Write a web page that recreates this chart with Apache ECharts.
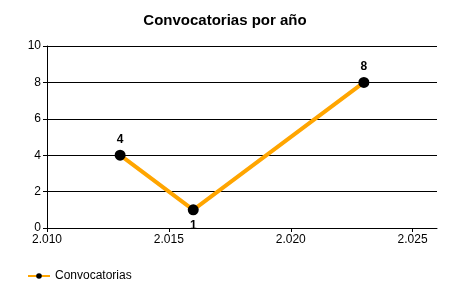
<!DOCTYPE html>
<html><head><meta charset="utf-8">
<script src="https://cdn.jsdelivr.net/npm/echarts@6/dist/echarts.min.js"></script>
<style>html,body{margin:0;padding:0;background:#fff}#c{width:450px;height:300px}</style>
</head><body><div id="c"></div>
<script>
const years = [2013, 2016, 2023];
const values = [4, 1, 8];
const labelPos = ['top', 'bottom', 'top'];
const seriesName = 'Convocatorias';
const titleText = 'Convocatorias por año';

const chart = echarts.init(document.getElementById('c'), null, {renderer: 'canvas'});
const fmt = v => { const s = String(v); return s.length > 3 ? s.slice(0, s.length - 3) + '.' + s.slice(-3) : s; };
chart.setOption({
  animation: false,
  textStyle: {fontFamily: 'Liberation Sans, Arial, sans-serif'},
  title: {text: titleText, left: 'center', top: 8, textStyle: {fontSize: 15, fontWeight: 'bold', color: '#000'}},
  grid: {left: 47, right: 13, top: 46, bottom: 72, containLabel: false},
  legend: {left: 22, bottom: 13, itemWidth: 22, itemHeight: 7, itemGap: 5, textStyle: {fontSize: 12, color: '#000'}, data: [seriesName]},
  xAxis: {
    type: 'value', min: 2010, max: 2026, interval: 5,
    axisLine: {show: true, lineStyle: {color: '#000', width: 1}},
    axisTick: {show: true, length: 4, lineStyle: {color: '#000'}},
    splitLine: {show: false},
    axisLabel: {formatter: fmt, color: '#000', fontSize: 12, margin: 6, showMaxLabel: false}
  },
  yAxis: {
    type: 'value', min: 0, max: 10, interval: 2,
    axisLine: {show: true, lineStyle: {color: '#000', width: 1}},
    axisTick: {show: true, length: 4, lineStyle: {color: '#000'}},
    splitLine: {show: true, lineStyle: {color: '#000', width: 1}},
    axisLabel: {color: '#000', fontSize: 12, margin: 6}
  },
  series: [{
    name: seriesName, type: 'line',
    data: years.map((y, i) => ({value: [y, values[i]], label: {position: labelPos[i]}})),
    symbol: 'circle', symbolSize: 11,
    itemStyle: {color: '#000'},
    lineStyle: {color: '#FFA500', width: 4},
    label: {show: true, fontWeight: 'bold', fontSize: 12, color: '#000', distance: 4}
  }]
});
</script></body></html>
